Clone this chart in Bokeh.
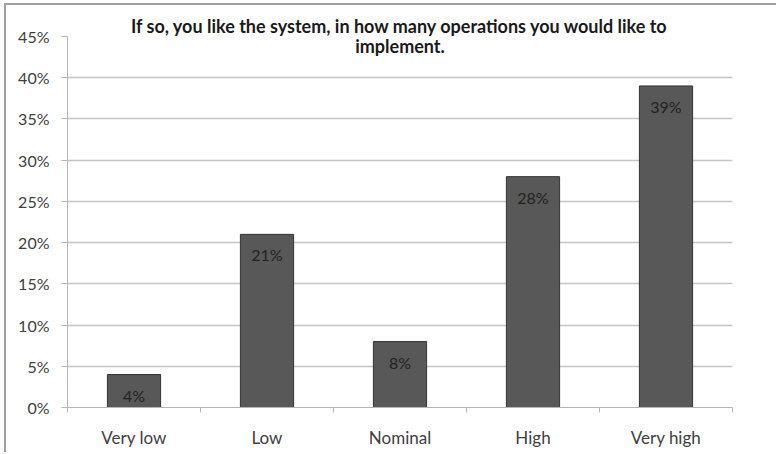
from bokeh.plotting import figure
from bokeh.models import (ColumnDataSource, Range1d, FixedTicker, NumeralTickFormatter,
                          Label, LabelSet)
from bokeh.core.properties import value
from bokeh.embed import file_html
from bokeh.resources import INLINE

categories = ["Very low", "Low", "Nominal", "High", "Very high"]
values = [0.04, 0.21, 0.08, 0.28, 0.39]
value_labels = ["4%", "21%", "8%", "28%", "39%"]
y_ticks = [0.0, 0.05, 0.10, 0.15, 0.20, 0.25, 0.30, 0.35, 0.40, 0.45]
title_lines = ["If so, you like the system, in how many operations you would like to",
               "implement."]

FONT = "Lato"
xs = [i + 0.5 for i in range(len(categories))]
src = ColumnDataSource(dict(x=xs, top=values, lab=value_labels))

p = figure(width=772, height=449, output_backend="svg", toolbar_location=None,
           x_range=Range1d(0, len(categories)), y_range=Range1d(0, 0.45),
           min_border_left=61, min_border_right=46, min_border_top=31,
           min_border_bottom=47, margin=(3, 0, 0, 4))
p.styles = {"border-top": "2px solid #a0a0a0", "border-left": "2px solid #a0a0a0"}
p.outline_line_color = None
p.background_fill_color = "white"
p.border_fill_color = "white"

p.title.text = title_lines[0]
p.title.align = "center"
p.title.text_font = FONT
p.title.text_font_style = "bold"
p.title.text_font_size = "18px"
p.title.text_color = "#1a1a1a"
p.title.standoff = 0

p.vbar(x="x", top="top", width=0.4, bottom=0, source=src,
       fill_color="#585858", line_color="#333333", line_width=1)

p.add_layout(LabelSet(x="x", y="top", text="lab", source=src, text_align="center",
                      text_baseline="top", y_offset=-11, text_font=value(FONT),
                      text_font_size="16px", text_color="#222222"))

# axes
p.yaxis.ticker = FixedTicker(ticks=y_ticks)
p.yaxis.formatter = NumeralTickFormatter(format="0%")
p.yaxis.major_label_text_font = FONT
p.yaxis.major_label_text_font_size = "16px"
p.yaxis.major_label_text_color = "#404040"
p.yaxis.axis_line_color = "#b5b5b5"
p.yaxis.major_tick_line_color = "#b5b5b5"
p.yaxis.major_tick_out = 6
p.yaxis.major_tick_in = 0
p.yaxis.minor_tick_line_color = None
p.yaxis.major_label_standoff = 12

p.xaxis.ticker = FixedTicker(ticks=xs, minor_ticks=list(range(len(categories) + 1)))
p.xaxis.major_label_overrides = {x: c for x, c in zip(xs, categories)}
p.xaxis.major_label_text_font = FONT
p.xaxis.major_label_text_font_size = "17px"
p.xaxis.major_label_text_color = "#404040"
p.xaxis.axis_line_color = "#b5b5b5"
p.xaxis.major_tick_line_color = None
p.xaxis.major_tick_out = 0
p.xaxis.major_tick_in = 0
p.xaxis.minor_tick_line_color = "#b5b5b5"
p.xaxis.minor_tick_out = 5
p.xaxis.minor_tick_in = 0
p.xaxis.major_label_standoff = 14

p.xgrid.grid_line_color = None
p.ygrid.ticker = FixedTicker(ticks=y_ticks)
p.ygrid.grid_line_color = "#c4c4c4"
p.ygrid.grid_line_width = 1.5

p.add_layout(Label(x=2.5, y=0.4385, text=title_lines[1], text_align="center",
                   text_baseline="middle", text_font=FONT, text_font_style="bold",
                   text_font_size="18px", text_color="#1a1a1a"))

open("out.html", "w").write(file_html(p, INLINE))
